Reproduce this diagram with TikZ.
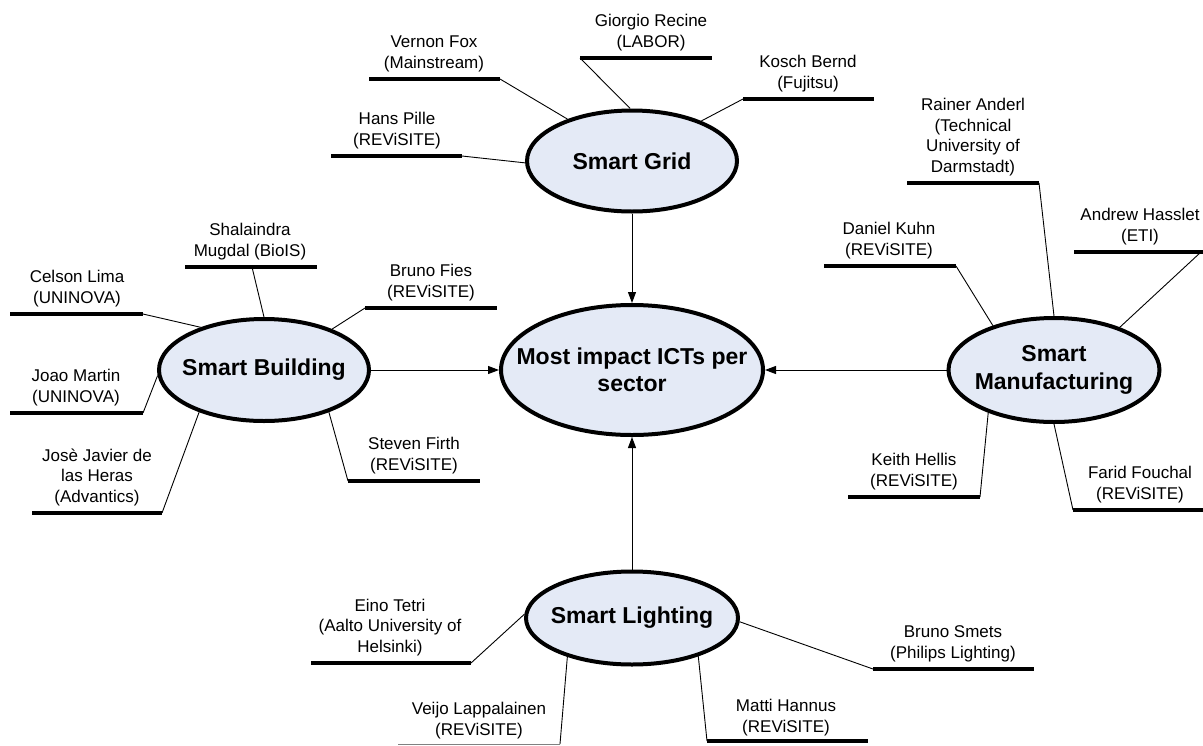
\documentclass[tikz,border=0pt]{standalone}
\usepackage{fontspec}
\setmainfont{Liberation Sans}
\usetikzlibrary{shapes.geometric,arrows.meta}
\definecolor{secfill}{RGB}{228,234,246}
\begin{document}
\begin{tikzpicture}[x=1pt,y=-1pt,
  sector/.style={ellipse, draw=black, line width=4pt, fill=secfill, inner sep=0pt},
  sectortext/.style={font=\bfseries\fontsize{23}{27.5}\selectfont, align=center, inner sep=0pt},
  lbl/.style={font=\fontsize{17}{20.5}\selectfont, align=center, inner sep=0pt, anchor=south},
  uline/.style={line width=4pt},
  thinline/.style={line width=1pt, draw=gray},
  conn/.style={line width=0.9pt},
  arr/.style={line width=1pt, -{Triangle[length=11pt,width=8pt]}}
]
\useasboundingbox (0,0) rectangle (1203,745);

% sector ellipses
\node[sector, minimum width=210pt, minimum height=101pt] (grid) at (632,161) {};
\node[sectortext] (gridt) at (grid.center) {Smart Grid};
\node[sector, minimum width=262pt, minimum height=130pt] (ict) at (632,370) {};
\node[sectortext] (ictt) at (ict.center) {Most impact ICTs per\\sector};
\node[sector, minimum width=210pt, minimum height=102pt] (bld) at (264,370) {};
\node[sectortext] (bldt) at (bld.center) {Smart Building};
\node[sector, minimum width=211pt, minimum height=104pt] (man) at (1054,370) {};
\node[sectortext] (mant) at (man.center) {Smart\\Manufacturing};
\node[sector, minimum width=212pt, minimum height=93pt] (lig) at (632,618) {};
\node[sectortext] (ligt) at (lig.center) {Smart Lighting};

% arrows to centre
\draw[arr] (grid) -- (ict);
\draw[arr] (bld) -- (ict);
\draw[arr] (man) -- (ict);
\draw[arr] (lig) -- (ict);

% ---- Smart Grid people
\node[lbl] (vf) at (434,72) {Vernon Fox\\(Mainstream)};
\coordinate (vfa) at (369,79); \coordinate (vfb) at (500,79);
\draw[uline] (vfa) -- (vfb); \draw[conn] (vfb) -- (grid.147.3);

\node[lbl] (gr) at (651,51) {Giorgio Recine\\(LABOR)};
\coordinate (gra) at (580,58); \coordinate (grb) at (712,58);
\draw[uline] (gra) -- (grb); \draw[conn] (gra) -- (grid.92);

\node[lbl] (kb) at (808,92) {Kosch Bernd\\(Fujitsu)};
\coordinate (kba) at (743,99); \coordinate (kbb) at (874,99);
\draw[uline] (kba) -- (kbb); \draw[conn] (kba) -- (grid.30.4);

\node[lbl] (hp) at (397,149) {Hans Pille\\(REViSITE)};
\coordinate (hpa) at (331,156); \coordinate (hpb) at (462,156);
\draw[uline] (hpa) -- (hpb); \draw[conn] (hpb) -- (grid.181);

% ---- Smart Building people
\node[lbl] (sm) at (250,260) {Shalaindra\\Mugdal (BioIS)};
\coordinate (sma) at (185,267); \coordinate (smb) at (317,267); \coordinate (smc) at (252,267);
\draw[uline] (sma) -- (smb); \draw[conn] (smc) -- (bld.90);

\node[lbl] (cl) at (77,307) {Celson Lima\\(UNINOVA)};
\coordinate (cla) at (10,314); \coordinate (clb) at (143,314);
\draw[uline] (cla) -- (clb); \draw[conn] (clb) -- (bld.146.7);

\node[lbl] (bf) at (431,301) {Bruno Fies\\(REViSITE)};
\coordinate (bfa) at (365,308); \coordinate (bfb) at (497,308);
\draw[uline] (bfa) -- (bfb); \draw[conn] (bfa) -- (bld.31.9);

\node[lbl] (jm) at (76,406) {Joao Martin\\(UNINOVA)};
\coordinate (jma) at (10,413); \coordinate (jmb) at (143,413);
\draw[uline] (jma) -- (jmb); \draw[conn] (jmb) -- (bld.183.7);

\node[lbl] (jj) at (97,506) {Josè Javier de\\las Heras\\(Advantics)};
\coordinate (jja) at (32,513); \coordinate (jjb) at (162,513);
\draw[uline] (jja) -- (jjb); \draw[conn] (jjb) -- (bld.213.7);

\node[lbl] (sf) at (414,474) {Steven Firth\\(REViSITE)};
\coordinate (sfa) at (348,481); \coordinate (sfb) at (480,481);
\draw[uline] (sfa) -- (sfb); \draw[conn] (sfa) -- (bld.327.1);

% ---- Smart Manufacturing people
\node[lbl] (ra) at (973,176) {Rainer Anderl\\(Technical\\University of\\Darmstadt)};
\coordinate (raa) at (907,183); \coordinate (rab) at (1039,183);
\draw[uline] (raa) -- (rab); \draw[conn] (rab) -- (man.90);

\node[lbl] (ah) at (1140,245) {Andrew Hasslet\\(ETI)};
\coordinate (aha) at (1074,252); \coordinate (ahb) at (1203,252); \coordinate (ahc) at (1201,252);
\draw[uline] (aha) -- (ahb); \draw[conn] (ahc) -- (man.33.5);

\node[lbl] (dk) at (889,259) {Daniel Kuhn\\(REViSITE)};
\coordinate (dka) at (824,266); \coordinate (dkb) at (956,266);
\draw[uline] (dka) -- (dkb); \draw[conn] (dkb) -- (man.144.7);

\node[lbl] (kh) at (914,490) {Keith Hellis\\(REViSITE)};
\coordinate (kha) at (848,497); \coordinate (khb) at (980,497);
\draw[uline] (kha) -- (khb); \draw[conn] (khb) -- (man.213.1);

\node[lbl] (ff) at (1140,503) {Farid Fouchal\\(REViSITE)};
\coordinate (ffa) at (1073,510); \coordinate (ffb) at (1203,510);
\draw[uline] (ffa) -- (ffb); \draw[conn] (ffa) -- (man.270);

% ---- Smart Lighting people
\node[lbl] (et) at (390,656) {Eino Tetri\\(Aalto University of\\Helsinki)};
\coordinate (eta) at (311,663); \coordinate (etb) at (471,663);
\draw[uline] (eta) -- (etb); \draw[conn] (etb) -- (lig.178.4);

\node[lbl] (vl) at (479,739) {Veijo Lappalainen\\(REViSITE)};
\coordinate (vla) at (398,744); \coordinate (vlb) at (560,744);
\draw[thinline] (vla) -- (vlb); \draw[conn] (vlb) -- (lig.211.4);

\node[lbl] (mh) at (786,736) {Matti Hannus\\(REViSITE)};
\coordinate (mha) at (707,741); \coordinate (mhb) at (868,741);
\draw[uline] (mha) -- (mhb); \draw[conn] (mha) -- (lig.330.2);

\node[lbl] (bs) at (953,662) {Bruno Smets\\(Philips Lighting)};
\coordinate (bsa) at (873,669); \coordinate (bsb) at (1034,669);
\draw[uline] (bsa) -- (bsb); \draw[conn] (bsa) -- (lig.358);
\end{tikzpicture}
\end{document}
